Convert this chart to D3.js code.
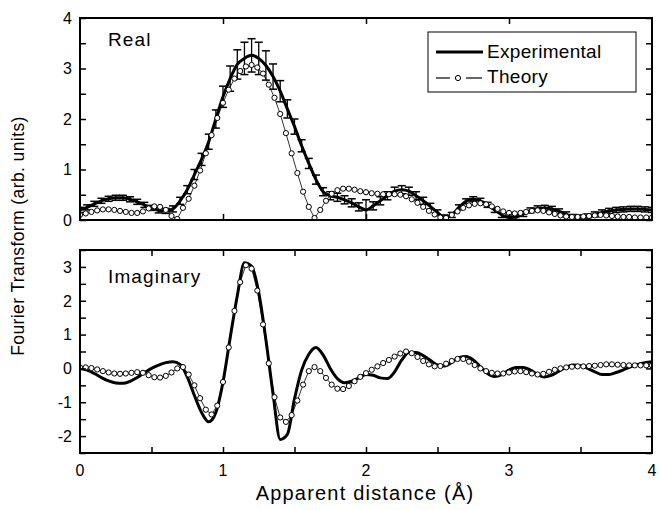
<!DOCTYPE html>
<html>
<head>
<meta charset="utf-8">
<script src="https://cdn.jsdelivr.net/npm/d3@7"></script>
<style>
  body { margin: 0; background: #fff; }
  text { font-family: "Liberation Sans", Arial, sans-serif; fill: #000; }
</style>
</head>
<body>
<script>
// experimental grid: 0 .. 4 in steps of 0.05, theory grid: 0 .. 4 in steps of 0.04
var xExp = d3.range(0, 81).map(function(i) { return i * 0.05; });
var xTh = d3.range(0, 101).map(function(i) { return i * 0.04; });

var realExp = [0.20, 0.25, 0.32, 0.38, 0.42, 0.44, 0.44, 0.41, 0.36, 0.30,
  0.24, 0.19, 0.18, 0.22, 0.38, 0.60, 0.90, 1.20, 1.55, 2.00,
  2.44, 2.80, 3.08, 3.20, 3.26, 3.20, 3.06, 2.84, 2.55, 2.20,
  1.85, 1.47, 1.12, 0.80, 0.56, 0.48, 0.45, 0.40, 0.34, 0.26,
  0.20, 0.28, 0.38, 0.48, 0.57, 0.60, 0.57, 0.48, 0.38, 0.27,
  0.15, 0.05, 0.10, 0.25, 0.37, 0.41, 0.38, 0.30, 0.20, 0.10,
  0.05, 0.06, 0.12, 0.19, 0.23, 0.24, 0.22, 0.17, 0.11, 0.06,
  0.05, 0.07, 0.11, 0.15, 0.18, 0.20, 0.21, 0.22, 0.22, 0.21, 0.20];

var realErr = [0.05, 0.05, 0.05, 0.05, 0.05, 0.05, 0.05, 0.05, 0.05, 0.05,
  0.05, 0.05, 0.05, 0.06, 0.07, 0.08, 0.10, 0.12, 0.15, 0.18,
  0.21, 0.25, 0.29, 0.32, 0.33, 0.32, 0.29, 0.25, 0.21, 0.18,
  0.15, 0.12, 0.10, 0.09, 0.08, 0.08, 0.08, 0.08, 0.08, 0.08,
  0.20, 0.08, 0.08, 0.08, 0.08, 0.08, 0.08, 0.08, 0.07, 0.06,
  0.05, 0.05, 0.05, 0.05, 0.05, 0.05, 0.05, 0.05, 0.05, 0.05,
  0.05, 0.05, 0.05, 0.05, 0.05, 0.05, 0.05, 0.05, 0.05, 0.05,
  0.05, 0.05, 0.05, 0.05, 0.05, 0.05, 0.05, 0.05, 0.05, 0.05, 0.05];

var realTh = [0.10, 0.13, 0.16, 0.19, 0.21, 0.21, 0.20, 0.18, 0.16, 0.14,
  0.14, 0.17, 0.23, 0.27, 0.26, 0.20, 0.08, 0.02, 0.24, 0.42,
  0.68, 0.98, 1.32, 1.68, 2.02, 2.32, 2.58, 2.80, 2.95, 3.04,
  3.07, 3.02, 2.90, 2.68, 2.42, 2.10, 1.72, 1.32, 0.93, 0.56,
  0.26, 0.04, 0.20, 0.38, 0.52, 0.59, 0.62, 0.62, 0.60, 0.57,
  0.55, 0.53, 0.52, 0.51, 0.51, 0.51, 0.50, 0.47, 0.41, 0.34,
  0.26, 0.18, 0.11, 0.05, 0.04, 0.10, 0.17, 0.24, 0.29, 0.32,
  0.33, 0.31, 0.27, 0.22, 0.17, 0.14, 0.13, 0.14, 0.16, 0.18,
  0.19, 0.18, 0.15, 0.12, 0.09, 0.07, 0.06, 0.06, 0.07, 0.08,
  0.09, 0.10, 0.09, 0.08, 0.07, 0.06, 0.06, 0.05, 0.05, 0.05, 0.05];

var imagExp = [0.00, -0.05, -0.15, -0.27, -0.37, -0.43, -0.44, -0.38, -0.27, -0.13,
  0.00, 0.10, 0.17, 0.20, 0.12, -0.25, -0.80, -1.30, -1.58, -1.30,
  -0.40, 0.90, 2.15, 3.12, 3.02, 2.24, 0.85, -0.75, -2.10, -1.95,
  -0.90, -0.05, 0.42, 0.62, 0.40, 0.00, -0.30, -0.42, -0.38, -0.28,
  -0.18, -0.20, -0.28, -0.30, -0.10, 0.25, 0.47, 0.47, 0.38, 0.24,
  0.10, 0.07, 0.18, 0.32, 0.35, 0.25, 0.05, -0.15, -0.24, -0.18,
  -0.05, 0.03, 0.03, -0.05, -0.18, -0.25, -0.20, -0.08, 0.04, 0.10,
  0.08, 0.00, -0.10, -0.18, -0.18, -0.12, -0.04, 0.05, 0.12, 0.17, 0.20];

var imagTh = [0.03, 0.03, 0.01, -0.03, -0.08, -0.12, -0.15, -0.16, -0.15, -0.13,
  -0.11, -0.13, -0.20, -0.26, -0.27, -0.22, -0.12, 0.00, 0.04, -0.18,
  -0.50, -0.88, -1.22, -1.36, -1.10, -0.40, 0.62, 1.70, 2.55, 3.05,
  2.95, 2.30, 1.30, 0.15, -0.85, -1.45, -1.58, -1.38, -0.95, -0.48,
  -0.08, 0.04, -0.08, -0.28, -0.48, -0.60, -0.61, -0.52, -0.38, -0.25,
  -0.14, -0.04, 0.06, 0.16, 0.25, 0.35, 0.44, 0.50, 0.45, 0.34,
  0.22, 0.12, 0.06, 0.07, 0.14, 0.22, 0.28, 0.28, 0.20, 0.10,
  0.00, -0.08, -0.13, -0.15, -0.15, -0.12, -0.09, -0.08, -0.11, -0.15,
  -0.18, -0.16, -0.10, -0.04, 0.00, 0.03, 0.05, 0.06, 0.06, 0.07,
  0.08, 0.10, 0.12, 0.12, 0.11, 0.10, 0.09, 0.09, 0.09, 0.09, 0.09];

var realTicks = [0, 1, 2, 3, 4];
var imagTicks = [-2, -1, 0, 1, 2, 3];
var xTicks = [0, 1, 2, 3, 4];

var width = 660, height = 510;
var svg = d3.select("body").append("svg")
  .attr("width", width)
  .attr("height", height);

var x = d3.scaleLinear().domain([0, 4]).range([80, 652]);
var yTop = d3.scaleLinear().domain([0, 4]).range([220, 18]);
var yBot = d3.scaleLinear().domain([-2.5, 3.5]).range([453, 250]);

function panel(y, expVals, thVals, errVals, yTicks, xTickVals, name, nameY) {
  var g = svg.append("g");
  var clip = "clip" + name;
  g.append("clipPath").attr("id", clip)
    .append("rect")
    .attr("x", x(0)).attr("y", y.range()[1])
    .attr("width", x(4) - x(0)).attr("height", y.range()[0] - y.range()[1]);

  var plot = g.append("g").attr("clip-path", "url(#" + clip + ")");

  // theory line + open circles
  var thLine = d3.line()
    .x(function(d, i) { return x(xTh[i]); })
    .y(function(d) { return y(d); });
  plot.append("path")
    .datum(thVals)
    .attr("d", thLine)
    .attr("fill", "none")
    .attr("stroke", "#000")
    .attr("stroke-width", 0.8);

  // error bars
  if (errVals) {
    var eb = plot.selectAll(".err").data(expVals).enter().append("g");
    eb.append("line")
      .attr("x1", function(d, i) { return x(xExp[i]); })
      .attr("x2", function(d, i) { return x(xExp[i]); })
      .attr("y1", function(d, i) { return y(d - errVals[i]); })
      .attr("y2", function(d, i) { return y(d + errVals[i]); })
      .attr("stroke", "#000").attr("stroke-width", 1.3);
    [-1, 1].forEach(function(s) {
      eb.append("line")
        .attr("x1", function(d, i) { return x(xExp[i]) - 4; })
        .attr("x2", function(d, i) { return x(xExp[i]) + 4; })
        .attr("y1", function(d, i) { return y(d + s * errVals[i]); })
        .attr("y2", function(d, i) { return y(d + s * errVals[i]); })
        .attr("stroke", "#000").attr("stroke-width", 1.5);
    });
  }

  var expLine = d3.line()
    .curve(d3.curveMonotoneX)
    .x(function(d, i) { return x(xExp[i]); })
    .y(function(d) { return y(d); });
  plot.append("path")
    .datum(expVals)
    .attr("d", expLine)
    .attr("fill", "none")
    .attr("stroke", "#000")
    .attr("stroke-width", 3);

  plot.selectAll(".mk").data(thVals).enter().append("circle")
    .attr("cx", function(d, i) { return x(xTh[i]); })
    .attr("cy", function(d) { return y(d); })
    .attr("r", 2.6)
    .attr("fill", "#fff")
    .attr("stroke", "#000")
    .attr("stroke-width", 1);

  // axes, ticks inward
  var yMinor = d3.range(Math.ceil(y.domain()[0] * 2), Math.floor(y.domain()[1] * 2) + 1)
    .map(function(k) { return k / 2; });
  g.append("g").attr("transform", "translate(" + x(0) + ",0)")
    .call(d3.axisRight(y).tickValues(yMinor).tickSize(6).tickFormat(""));
  g.append("g").attr("transform", "translate(" + x(4) + ",0)")
    .call(d3.axisLeft(y).tickValues(yMinor).tickSize(6).tickFormat(""));
  g.append("g").attr("transform", "translate(0," + y.range()[0] + ")")
    .call(d3.axisTop(x).tickValues(xTickVals).tickSize(6).tickFormat(""));
  g.append("g").attr("transform", "translate(0," + y.range()[1] + ")")
    .call(d3.axisBottom(x).tickValues(xTickVals).tickSize(6).tickFormat(""));
  g.selectAll(".domain").remove();
  g.selectAll(".tick line").attr("stroke", "#000").attr("stroke-width", 1.5);

  g.append("rect")
    .attr("x", x(0)).attr("y", y.range()[1])
    .attr("width", x(4) - x(0)).attr("height", y.range()[0] - y.range()[1])
    .attr("fill", "none").attr("stroke", "#000").attr("stroke-width", 2);

  g.selectAll(".ylab").data(yTicks).enter().append("text")
    .attr("x", 72)
    .attr("y", function(d) { return y(d); })
    .attr("dy", "0.36em")
    .attr("text-anchor", "end")
    .style("font-size", "16px")
    .text(function(d) { return d; });

  g.append("text")
    .attr("x", 108)
    .attr("y", nameY)
    .style("font-size", "19px")
    .style("letter-spacing", "1.1px")
    .text(name);
}

panel(yTop, realExp, realTh, realErr, realTicks, [1, 2, 3], "Real", 46);
panel(yBot, imagExp, imagTh, null, imagTicks, d3.range(1, 8).map(function(k) { return k / 2; }), "Imaginary", 283);

// x tick labels
svg.selectAll(".xlab").data(xTicks).enter().append("text")
  .attr("x", function(d) { return x(d); })
  .attr("y", 476)
  .attr("text-anchor", "middle")
  .style("font-size", "16px")
  .text(function(d) { return d; });

svg.append("text")
  .attr("x", (x(0) + x(4)) / 2 - 1)
  .attr("y", 500)
  .attr("text-anchor", "middle")
  .style("font-size", "20px")
  .style("letter-spacing", "1.2px")
  .text("Apparent distance (Å)");

svg.append("text")
  .attr("transform", "translate(24,236) rotate(-90)")
  .attr("text-anchor", "middle")
  .style("font-size", "17.5px")
  .style("letter-spacing", "0.4px")
  .text("Fourier Transform (arb. units)");

// legend
var lg = svg.append("g");
lg.append("rect")
  .attr("x", 428).attr("y", 32).attr("width", 208).attr("height", 60)
  .attr("fill", "#fff").attr("stroke", "#000").attr("stroke-width", 1);
lg.append("line")
  .attr("x1", 436).attr("x2", 483).attr("y1", 52).attr("y2", 52)
  .attr("stroke", "#000").attr("stroke-width", 3);
lg.append("text").attr("x", 487).attr("y", 58)
  .style("font-size", "19px").style("letter-spacing", "0.3px").text("Experimental");
lg.append("line")
  .attr("x1", 436).attr("x2", 450).attr("y1", 78).attr("y2", 78)
  .attr("stroke", "#000").attr("stroke-width", 1.2);
lg.append("line")
  .attr("x1", 466).attr("x2", 482).attr("y1", 78).attr("y2", 78)
  .attr("stroke", "#000").attr("stroke-width", 1.2);
lg.append("circle").attr("cx", 458).attr("cy", 78).attr("r", 2.6)
  .attr("fill", "#fff").attr("stroke", "#000").attr("stroke-width", 1);
lg.append("text").attr("x", 487).attr("y", 83)
  .style("font-size", "19px").style("letter-spacing", "0.3px").text("Theory");
</script>
</body>
</html>
